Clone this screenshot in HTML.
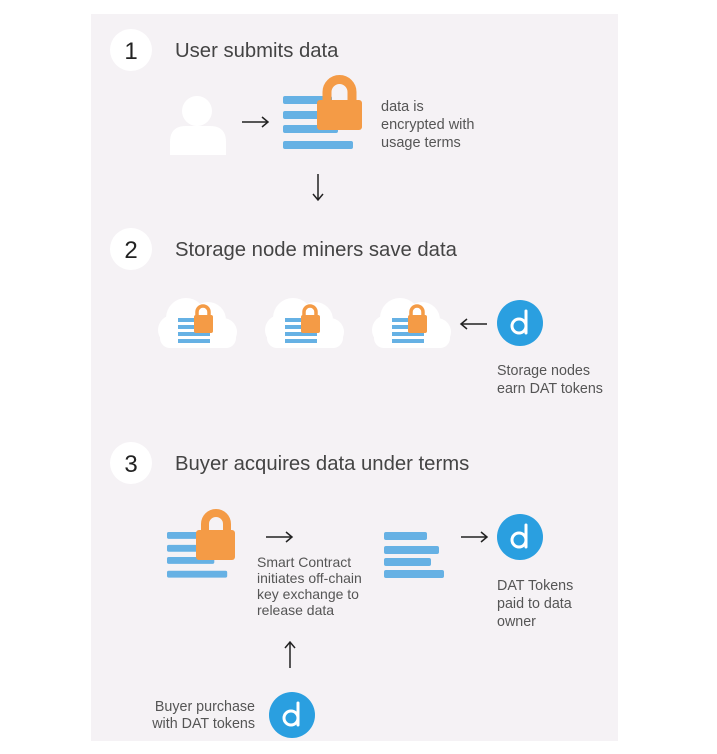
<!DOCTYPE html>
<html><head><meta charset="utf-8"><style>
html,body{margin:0;padding:0;background:#fff;}
svg{display:block;}
text{font-family:"Liberation Sans",sans-serif;}
</style></head><body>
<svg width="717" height="754" viewBox="0 0 717 754" xmlns="http://www.w3.org/2000/svg">
<defs>
<g id="bars">
<rect x="0" y="0" width="49" height="8" rx="2" fill="#66b1e4"/>
<rect x="0" y="15" width="55" height="8" rx="2" fill="#66b1e4"/>
<rect x="0" y="29" width="55" height="8" rx="2" fill="#66b1e4"/>
<rect x="0" y="45" width="70" height="8" rx="2" fill="#66b1e4"/>
</g>
<g id="dat">
<circle cx="0" cy="0" r="23" fill="#2a9fe0"/>
<circle cx="-1" cy="3" r="7" fill="none" stroke="#fff" stroke-width="3"/>
<path d="M6 -12 V10" stroke="#fff" stroke-width="3" stroke-linecap="round" fill="none"/>
</g>
<g id="cloud">
<circle cx="-12" cy="-2" r="20" fill="#fff"/>
<circle cx="10" cy="0" r="18" fill="#fff"/>
<circle cx="-25" cy="10" r="15" fill="#fff"/>
<circle cx="25" cy="12" r="14" fill="#fff"/>
<rect x="-38" y="8" width="76" height="20" rx="10" fill="#fff"/>
<rect x="-20" y="-2" width="28" height="4" fill="#66b1e4"/>
<rect x="-20" y="5" width="32" height="4" fill="#66b1e4"/>
<rect x="-20" y="12" width="32" height="4" fill="#66b1e4"/>
<rect x="-20" y="19" width="32" height="4" fill="#66b1e4"/>
<path d="M-1 -4 V-8 A6 6 0 0 1 11 -8 V-4" fill="none" stroke="#f49b46" stroke-width="3.5"/>
<rect x="-4" y="-5" width="19" height="18" rx="2" fill="#f49b46"/>
</g>
<g id="ar">
<path d="M0 0 H26 M20 -5 L26 0 L20 5" fill="none" stroke="#222" stroke-width="1.5"/>
</g>
</defs>
<rect x="91" y="14" width="527" height="727" fill="#f5f2f5"/>

<!-- Section 1 -->
<circle cx="131" cy="50" r="21" fill="#fff"/>
<text x="131" y="59" font-size="24" text-anchor="middle" fill="#222">1</text>
<text x="175" y="57" font-size="20.3" fill="#444">User submits data</text>
<circle cx="197" cy="111" r="15" fill="#fff"/>
<path d="M170 155 V142 Q170 126 186 126 H210 Q226 126 226 142 V155 Z" fill="#fff"/>
<use href="#ar" x="242" y="122"/>
<use href="#bars" x="283" y="96"/>
<path d="M327 101 V92 A12.5 12.5 0 0 1 352 92 V101" fill="none" stroke="#f49b46" stroke-width="9"/>
<rect x="317" y="100" width="45" height="30" rx="3" fill="#f49b46"/>
<text font-size="14.5" fill="#555"><tspan x="381" y="111">data is</tspan><tspan x="381" y="129">encrypted with</tspan><tspan x="381" y="147">usage terms</tspan></text>
<use href="#ar" transform="translate(318 174) rotate(90)"/>

<!-- Section 2 -->
<circle cx="131" cy="249" r="21" fill="#fff"/>
<text x="131" y="258" font-size="24" text-anchor="middle" fill="#222">2</text>
<text x="175" y="256" font-size="20.3" fill="#444">Storage node miners save data</text>
<use href="#cloud" x="198" y="320"/>
<use href="#cloud" x="305" y="320"/>
<use href="#cloud" x="412" y="320"/>
<use href="#ar" transform="translate(487 324) rotate(180)"/>
<use href="#dat" x="520" y="323"/>
<text font-size="14.3" fill="#555"><tspan x="497" y="375">Storage nodes</tspan><tspan x="497" y="393">earn DAT tokens</tspan></text>

<!-- Section 3 -->
<circle cx="131" cy="463" r="21" fill="#fff"/>
<text x="131" y="472" font-size="24" text-anchor="middle" fill="#222">3</text>
<text x="175" y="470" font-size="20.3" fill="#444">Buyer acquires data under terms</text>
<use href="#bars" x="167" y="532" transform="translate(167 532) scale(0.86 0.86) translate(-167 -532)"/>
<path d="M205 532 V524 A11 11 0 0 1 227 524 V532" fill="none" stroke="#f49b46" stroke-width="8"/>
<rect x="196" y="530" width="39" height="30" rx="3" fill="#f49b46"/>
<use href="#ar" x="266" y="537"/>
<text font-size="14" fill="#555"><tspan x="257" y="567">Smart Contract</tspan><tspan x="257" y="583">initiates off-chain</tspan><tspan x="257" y="599">key exchange to</tspan><tspan x="257" y="615">release data</tspan></text>
<rect x="384" y="532" width="43" height="8" rx="2" fill="#66b1e4"/>
<rect x="384" y="546" width="55" height="8" rx="2" fill="#66b1e4"/>
<rect x="384" y="558" width="47" height="8" rx="2" fill="#66b1e4"/>
<rect x="384" y="570" width="60" height="8" rx="2" fill="#66b1e4"/>
<use href="#ar" x="461" y="537"/>
<use href="#dat" x="520" y="537"/>
<text font-size="14.3" fill="#555"><tspan x="497" y="590">DAT Tokens</tspan><tspan x="497" y="608">paid to data</tspan><tspan x="497" y="626">owner</tspan></text>
<use href="#ar" transform="translate(290 668) rotate(-90)"/>
<use href="#dat" x="292" y="715"/>
<text font-size="14.3" fill="#555" text-anchor="end"><tspan x="255" y="711">Buyer purchase</tspan><tspan x="255" y="728">with DAT tokens</tspan></text>
</svg>
</body></html>
